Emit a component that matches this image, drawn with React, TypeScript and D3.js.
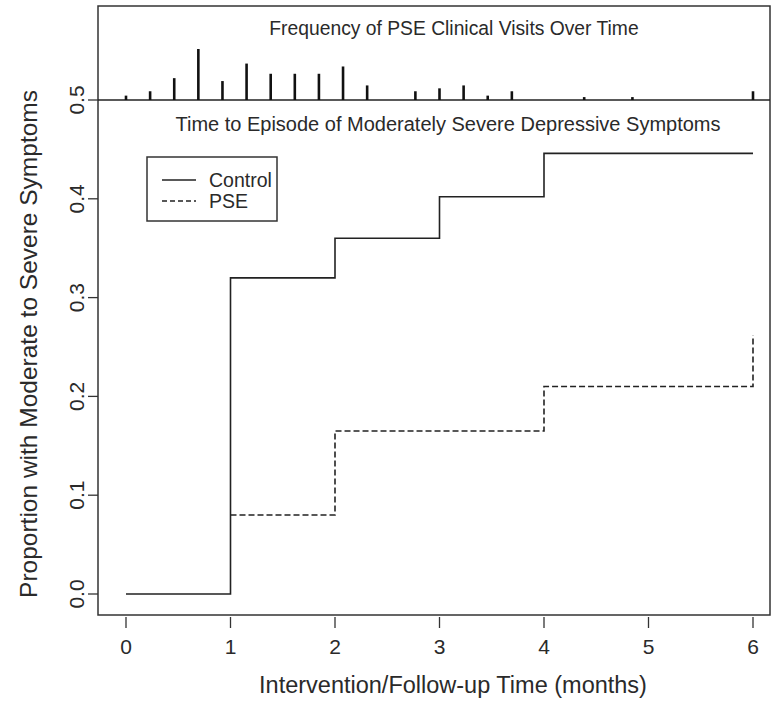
import React, { useEffect, useRef } from 'react';
import * as d3 from 'd3';

// visit weeks (converted to months) and visit counts for the top spike panel
const visitWeeks = [0, 1, 2, 3, 4, 5, 6, 7, 8, 9, 10, 12, 13, 14, 15, 16, 19, 21, 26];
const visitCounts = [3, 6, 15, 35, 13, 25, 18, 18, 18, 23, 10, 6, 8, 10, 3, 6, 2, 2, 6];

// step curves: time (months), cumulative proportion
const controlTimes = [0, 1, 2, 3, 4, 6];
const controlValues = [0, 0.32, 0.36, 0.402, 0.446, 0.446];
const pseTimes = [1, 2, 4, 6];
const pseValues = [0.08, 0.165, 0.21, 0.262];

const xTicks = [0, 1, 2, 3, 4, 5, 6];
const yTicks = [0, 0.1, 0.2, 0.3, 0.4, 0.5];

const App = () => {
  const chartRef = useRef<HTMLDivElement>(null);

  useEffect(() => {
    const width = 772;
    const height = 702;
    const font = '"Liberation Sans", Arial, sans-serif';
    const ink = '#222';
    const textCol = '#2a2a2a';

    d3.select(chartRef.current).selectAll('svg').remove();

    const svg = d3.select(chartRef.current)
      .append('svg')
      .attr('width', width)
      .attr('height', height)
      .style('display', 'block')
      .style('font-family', font);

    const box = { left: 98, right: 770, top: 6, bottom: 615 };

    const x = d3.scaleLinear().domain([0, 6]).range([126, 753]);
    const y = d3.scaleLinear().domain([0, 0.5]).range([594, 100]);
    const spike = d3.scaleLinear().domain([0, 35]).range([0, 51]);

    // plot frame
    svg.append('rect')
      .attr('x', box.left)
      .attr('y', box.top)
      .attr('width', box.right - box.left)
      .attr('height', box.bottom - box.top)
      .attr('fill', 'none')
      .attr('stroke', '#333')
      .attr('stroke-width', 1.5);

    // separator at 0.5
    svg.append('line')
      .attr('x1', box.left)
      .attr('x2', box.right)
      .attr('y1', y(0.5))
      .attr('y2', y(0.5))
      .attr('stroke', ink)
      .attr('stroke-width', 1.5);

    // x axis
    const xa = svg.append('g');
    xa.selectAll('line')
      .data(xTicks)
      .enter()
      .append('line')
      .attr('x1', d => x(d))
      .attr('x2', d => x(d))
      .attr('y1', box.bottom + 2)
      .attr('y2', box.bottom + 13)
      .attr('stroke', '#333')
      .attr('stroke-width', 1.3);
    xa.selectAll('text')
      .data(xTicks)
      .enter()
      .append('text')
      .attr('x', d => x(d))
      .attr('y', 654)
      .attr('text-anchor', 'middle')
      .attr('font-size', 21)
      .attr('fill', textCol)
      .text(d => d);

    // y axis
    const ya = svg.append('g');
    ya.selectAll('line')
      .data(yTicks)
      .enter()
      .append('line')
      .attr('x1', box.left - 10)
      .attr('x2', box.left)
      .attr('y1', d => y(d))
      .attr('y2', d => y(d))
      .attr('stroke', '#333')
      .attr('stroke-width', 1.3);
    ya.selectAll('text')
      .data(yTicks)
      .enter()
      .append('text')
      .attr('transform', d => `translate(84,${y(d)}) rotate(-90)`)
      .attr('text-anchor', 'middle')
      .attr('font-size', 21)
      .attr('fill', textCol)
      .text(d => d3.format('.1f')(d));

    // axis titles
    svg.append('text')
      .attr('x', 453)
      .attr('y', 693)
      .attr('text-anchor', 'middle')
      .attr('font-size', 23.5)
      .attr('fill', textCol)
      .text('Intervention/Follow-up Time (months)');

    svg.append('text')
      .attr('transform', `translate(37,344) rotate(-90)`)
      .attr('text-anchor', 'middle')
      .attr('font-size', 24.5)
      .attr('fill', textCol)
      .text('Proportion with Moderate to Severe Symptoms');

    // panel titles
    svg.append('text')
      .attr('x', 454)
      .attr('y', 35)
      .attr('text-anchor', 'middle')
      .attr('font-size', 19.3)
      .attr('fill', textCol)
      .text('Frequency of PSE Clinical Visits Over Time');

    svg.append('text')
      .attr('x', 448)
      .attr('y', 131)
      .attr('text-anchor', 'middle')
      .attr('font-size', 20)
      .attr('fill', textCol)
      .text('Time to Episode of Moderately Severe Depressive Symptoms');

    // visit frequency spikes
    svg.selectAll('.spike')
      .data(visitWeeks.map((w, i) => ({ t: w / (52 / 12), n: visitCounts[i] })))
      .enter()
      .append('line')
      .attr('class', 'spike')
      .attr('x1', d => x(d.t))
      .attr('x2', d => x(d.t))
      .attr('y1', y(0.5))
      .attr('y2', d => y(0.5) - spike(d.n))
      .attr('stroke', '#111')
      .attr('stroke-width', 2.6);

    const step = d3.line<[number, number]>()
      .x(d => x(d[0]))
      .y(d => y(d[1]))
      .curve(d3.curveStepAfter);

    svg.append('path')
      .datum(pseTimes.map((t, i) => [t, pseValues[i]] as [number, number]))
      .attr('d', step)
      .attr('fill', 'none')
      .attr('stroke', ink)
      .attr('stroke-width', 1.6)
      .attr('stroke-dasharray', '6,3');

    svg.append('path')
      .datum(controlTimes.map((t, i) => [t, controlValues[i]] as [number, number]))
      .attr('d', step)
      .attr('fill', 'none')
      .attr('stroke', ink)
      .attr('stroke-width', 1.6);

    // legend
    const lg = svg.append('g');
    lg.append('rect')
      .attr('x', 147)
      .attr('y', 157)
      .attr('width', 130)
      .attr('height', 64)
      .attr('fill', 'none')
      .attr('stroke', '#333')
      .attr('stroke-width', 1.5);
    const items = [
      { label: 'Control', dash: null, yy: 180 },
      { label: 'PSE', dash: '5,3', yy: 201 },
    ];
    items.forEach(it => {
      lg.append('line')
        .attr('x1', 162)
        .attr('x2', 196)
        .attr('y1', it.yy)
        .attr('y2', it.yy)
        .attr('stroke', ink)
        .attr('stroke-width', 1.5)
        .attr('stroke-dasharray', it.dash);
      lg.append('text')
        .attr('x', 209)
        .attr('y', it.yy + 7)
        .attr('font-size', 19.5)
        .attr('fill', textCol)
        .text(it.label);
    });
  }, []);

  return <div ref={chartRef} style={{ position: 'absolute', left: 0, top: 0 }}></div>;
};

export default App;
